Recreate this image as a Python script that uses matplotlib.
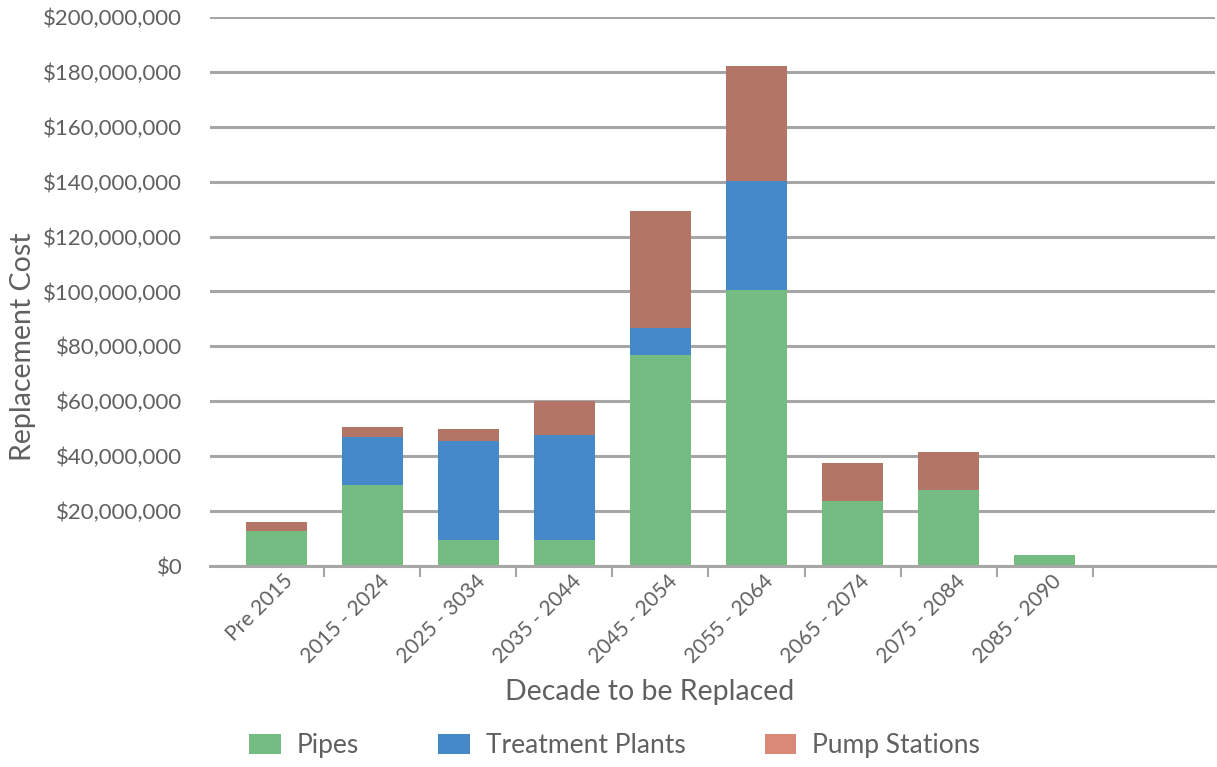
import matplotlib
matplotlib.use("Agg")
import matplotlib.pyplot as plt
import matplotlib.transforms as mtransforms
from matplotlib.patches import Patch
from matplotlib.ticker import FuncFormatter
import numpy as np

# replacement cost per decade, in $ millions
decades = ["Pre 2015", "2015 - 2024", "2025 - 3034", "2035 - 2044", "2045 - 2054",
           "2055 - 2064", "2065 - 2074", "2075 - 2084", "2085 - 2090"]
pipes = [12.6, 29.5, 9.4, 9.4, 77.0, 100.4, 23.8, 27.7, 4.2]
treatment = [0.0, 17.6, 36.3, 38.4, 9.6, 40.0, 0.0, 0.0, 0.0]
pump = [3.5, 3.4, 4.1, 12.2, 42.8, 41.8, 13.7, 14.0, 0.0]

series_names = ["Pipes", "Treatment Plants", "Pump Stations"]
bar_colors = ["#74bc82", "#4589c8", "#b27566"]
legend_colors = ["#74bc82", "#4589c8", "#da8877"]

plt.rcParams['font.family'] = ['Lato', 'DejaVu Sans']
txt = "#606060"
grid_c = "#a6a6a6"

fig = plt.figure(figsize=(12.17, 7.67), dpi=100)
ax = fig.add_axes([0.1726, 0.262, 0.8254, 0.716])

x = np.arange(len(decades))
m = 1e6
p = np.array(pipes) * m
t = np.array(treatment) * m
s = np.array(pump) * m
w = 0.635
ax.bar(x, p, w, color=bar_colors[0], zorder=3)
ax.bar(x, t, w, bottom=p, color=bar_colors[1], zorder=3)
ax.bar(x, s, w, bottom=p + t, color=bar_colors[2], zorder=3)

ax.set_xlim(-0.69, 9.77)
ax.set_ylim(0, 200e6)
ax.set_yticks(np.arange(0, 200e6 + 1, 20e6))
ax.yaxis.set_major_formatter(FuncFormatter(lambda v, pos: "${:,.0f}".format(v)))
ax.yaxis.grid(True, color=grid_c, linewidth=2.2, zorder=0)
ax.tick_params(axis='y', length=0, pad=20, labelsize=16, labelcolor=txt)

for side in ["left", "right", "top"]:
    ax.spines[side].set_visible(False)
ax.spines["bottom"].set_color(grid_c)
ax.spines["bottom"].set_linewidth(2.2)
ax.spines["bottom"].set_zorder(4)

ax.set_xticks(x)
ax.set_xticklabels(decades, rotation=45, ha='right', va='center',
                   rotation_mode='anchor', fontsize=15, color=txt)
ax.set_xticks(np.arange(0.5, len(decades) - 0.4, 1.0), minor=True)
ax.tick_params(axis='x', which='major', length=0, pad=10)
ax.tick_params(axis='x', which='minor', length=8, width=1.5, color=grid_c)
shift = mtransforms.ScaledTranslation(14 / 100, 2 / 100, fig.dpi_scale_trans)
for lab in ax.get_xticklabels():
    lab.set_transform(lab.get_transform() + shift)

ax.set_ylabel("Replacement Cost", fontsize=20.5, color=txt, va='center')
ax.yaxis.set_label_coords(-0.186, 0.40)
ax.set_xlabel("Decade to be Replaced", fontsize=20.5, color=txt)
ax.xaxis.set_label_coords(0.438, -0.206)

handles = [Patch(facecolor=c, edgecolor='none') for c in legend_colors]
leg = fig.legend(handles, series_names, loc='center', bbox_to_anchor=(0.505, 0.028),
                 ncol=3, frameon=False, fontsize=19, handlelength=1.2,
                 handleheight=0.8, handletextpad=0.6, columnspacing=3.0)
for lt in leg.get_texts():
    lt.set_color(txt)

fig.savefig("out.png", dpi=100)
